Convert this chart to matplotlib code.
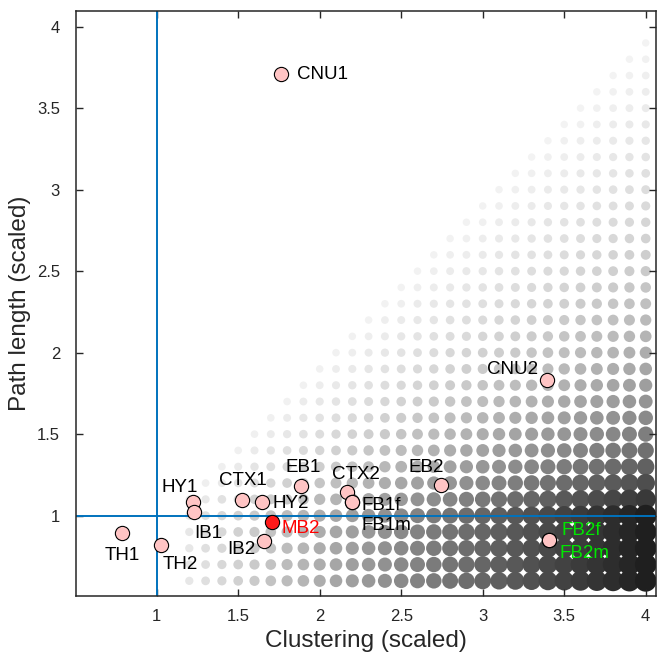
import numpy as np
import matplotlib
matplotlib.use("Agg")
import matplotlib.pyplot as plt

plt.rcParams['font.family'] = ['Liberation Sans', 'DejaVu Sans']

# ---- data ----
names = ["CNU1", "CNU2", "TH1", "TH2", "HY1", "IB1", "CTX1", "HY2", "MB2",
         "IB2", "EB1", "CTX2", "FB1f", "FB1m", "EB2", "FB2f", "FB2m"]
clustering = [1.761, 3.393, 0.790, 1.025, 1.225, 1.229, 1.526, 1.648, 1.706,
              1.658, 1.888, 2.170, 2.200, 2.200, 2.742, 3.407, 3.407]
path_length = [3.709, 1.831, 0.891, 0.820, 1.086, 1.020, 1.097, 1.086, 0.963,
               0.846, 1.179, 1.143, 1.086, 1.086, 1.185, 0.852, 0.852]
highlight = ["MB2"]
label_colors = {"MB2": "#ff0000", "FB2f": "#00e600", "FB2m": "#00e600"}

# label offsets (pixels) and alignment
label_pos = {
    "CNU1": (16, 0, "left"), "CNU2": (-9, 11, "right"), "TH1": (0, -22, "center"),
    "TH2": (2, -20, "left"), "HY1": (-14, 14, "center"), "IB1": (0, -21, "left"),
    "CTX1": (0, 19, "center"), "HY2": (10, -2, "left"), "MB2": (10, -7, "left"),
    "IB2": (-8, -9, "right"), "EB1": (2, 19, "center"), "CTX2": (9, 18, "center"),
    "FB1f": (9, -4, "left"), "FB1m": (9, -24, "left"), "EB2": (-14, 18, "center"),
    "FB2f": (12, 9, "left"), "FB2m": (10, -14, "left"),
}

# background grid of small-world index sigma = C / max(L, 1)
grid_c = np.round(np.arange(1.2, 4.0001, 0.1), 1)
grid_l = np.round(np.arange(0.6, 3.9001, 0.1), 1)

xticks = [1, 1.5, 2, 2.5, 3, 3.5, 4]
yticks = [1, 1.5, 2, 2.5, 3, 3.5, 4]

# ---- figure ----
fig = plt.figure(figsize=(6.57, 6.59), dpi=100)
ax = fig.add_axes([76 / 657, 63 / 659, 580 / 657, 585 / 659])

GC, GL = np.meshgrid(grid_c, grid_l)
GC = GC.ravel(); GL = GL.ravel()
mask = GC > GL + 0.05
GC = GC[mask]; GL = GL[mask]
sigma = GC / np.maximum(GL, 1.0)
order = np.argsort(sigma, kind="stable")
GC, GL, sigma = GC[order], GL[order], sigma[order]
gray = np.clip(0.96 - (sigma - 1) * 0.28, 0, 1)
diam_pt = (2.5 + 4.8 * sigma) * 0.72
ax.scatter(GC, GL, s=diam_pt ** 2, c=np.stack([gray, gray, gray], axis=1),
           linewidths=0, zorder=1)

blue = (0, 0.447, 0.741)
ax.axvline(1, color=blue, lw=1.4, zorder=2)
ax.axhline(1, color=blue, lw=1.4, zorder=2)

for n, cx, ly in zip(names, clustering, path_length):
    fc = "#ff1a1a" if n in highlight else "#ffc4c4"
    ax.scatter([cx], [ly], s=105, facecolor=fc, edgecolor="black",
               linewidths=0.8, zorder=3)

for n, cx, ly in zip(names, clustering, path_length):
    dx, dy, ha = label_pos[n]
    ax.annotate(n, (cx, ly), xytext=(dx, dy), textcoords="offset pixels",
                ha=ha, va="center", fontsize=13.5,
                color=label_colors.get(n, "black"), zorder=4)

ax.set_xlim(0.505, 4.063)
ax.set_ylim(0.507, 4.096)
ax.set_xticks(xticks)
ax.set_xticklabels([f"{t:g}" for t in xticks])
ax.set_yticks(yticks)
ax.set_yticklabels([f"{t:g}" for t in yticks])
dark = (0.15, 0.15, 0.15)
ax.tick_params(direction="in", length=5, width=1, colors=dark, labelsize=12,
               top=True, right=True)
ax.tick_params(axis="x", pad=9.5)
ax.tick_params(axis="y", pad=11.5)
for sp in ax.spines.values():
    sp.set_color(dark)
    sp.set_linewidth(1.1)
ax.set_xlabel("Clustering (scaled)", fontsize=17.5, color=dark, labelpad=4)
ax.set_ylabel("Path length (scaled)", fontsize=17.5, color=dark, labelpad=4)

fig.savefig("out.png", dpi=100)
